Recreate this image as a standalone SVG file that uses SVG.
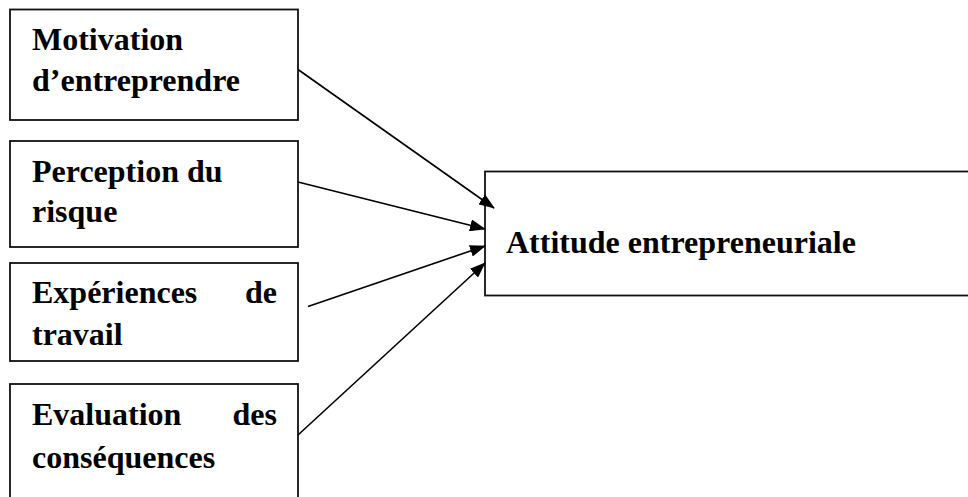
<svg xmlns="http://www.w3.org/2000/svg" width="968" height="497" viewBox="0 0 968 497">
<style>
.box{fill:#fff;stroke:#111;stroke-width:1.8}
.t{font-family:"Liberation Serif","Times New Roman",serif;font-weight:bold;font-size:32px;fill:#000}
.e{text-anchor:end}
.c{stroke:#000;stroke-width:1.6;fill:none}
</style>
<defs>
<marker id="ah" markerWidth="16" markerHeight="12" refX="15" refY="6" orient="auto" markerUnits="userSpaceOnUse">
<path d="M0,0 L16,6 L0,12 Z" fill="#000"/>
</marker>
</defs>
<rect width="968" height="497" fill="#fff"/>
<g id="n1"><rect class="box" x="10" y="9.5" width="288" height="110.5"/>
<text class="t" x="32" y="50">Motivation</text>
<text class="t" x="32" y="90.5">d’entreprendre</text></g>
<g id="n2"><rect class="box" x="10" y="141" width="288" height="106"/>
<text class="t" x="32" y="182">Perception du</text>
<text class="t" x="32" y="222">risque</text></g>
<g id="n3"><rect class="box" x="10" y="263" width="288" height="98"/>
<text class="t" x="32" y="303">Expériences</text>
<text class="t e" x="277" y="303">de</text>
<text class="t" x="32" y="345">travail</text></g>
<g id="n4"><rect class="box" x="10" y="384" width="288" height="130"/>
<text class="t" x="32" y="425">Evaluation</text>
<text class="t e" x="277" y="425">des</text>
<text class="t" x="32" y="468">conséquences</text></g>
<g id="n5"><rect class="box" x="485" y="171.5" width="500" height="124"/>
<text class="t" x="506" y="253">Attitude entrepreneuriale</text></g>
<g id="connectors">
<line class="c" x1="298" y1="69.5" x2="494" y2="208" marker-end="url(#ah)"/>
<line class="c" x1="298" y1="182" x2="485" y2="229" marker-end="url(#ah)"/>
<line class="c" x1="308" y1="306.5" x2="485" y2="246" marker-end="url(#ah)"/>
<line class="c" x1="298" y1="435" x2="485" y2="263" marker-end="url(#ah)"/>
</g>
</svg>
